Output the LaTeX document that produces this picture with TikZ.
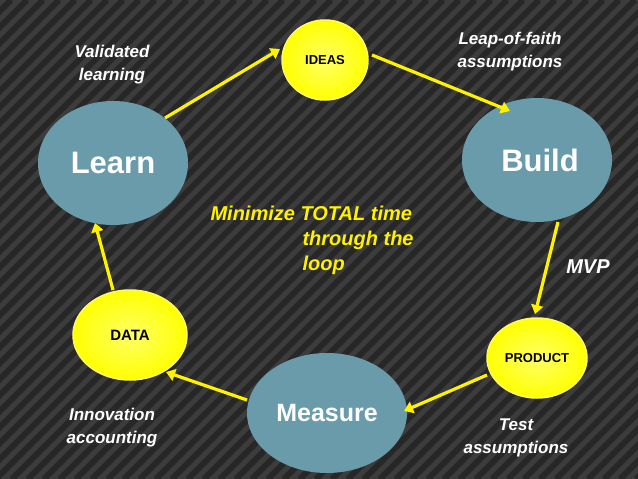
\documentclass[tikz,border=0pt]{standalone}
\usepackage{fontspec}
\setmainfont{Liberation Sans}
\usetikzlibrary{arrows.meta,shapes.geometric}
\begin{document}
\begin{tikzpicture}[x=1pt,y=-1pt,
 teal/.style={ellipse,draw=none,fill=tealc,inner sep=0},
 yel/.style={ellipse,draw=yellow!60!white,line width=1.5pt,inner color=yellow!60!white,outer color=yellow,inner sep=0},
 arr/.style={draw=yellow,line width=3.2pt,-{Triangle[length=9pt,width=12pt]}},
 note/.style={text=white,font=\bfseries\itshape\fontsize{17}{23}\selectfont,align=center}]
\definecolor{tealc}{HTML}{6A9BAA}
\definecolor{bg}{HTML}{3C3C3C}
\fill[bg] (0,0) rectangle (638,479);
\useasboundingbox (0,0) rectangle (638,479);
\begin{scope}
\clip (0,0) rectangle (638,479);
\foreach \i in {-500,-484,...,640} \draw[black!35!bg,line width=6pt] (\i,479) -- (\i+479,0);
\end{scope}
\node[yel,minimum width=86pt,minimum height=80pt] (ideas) at (325,60) {\bfseries\fontsize{13}{15}\selectfont IDEAS};
\node[teal,minimum width=150pt,minimum height=124pt] (build) at (537,160) {};
\node[text=white,font=\bfseries\fontsize{31}{36}\selectfont] at (540,160) {Build};
\node[yel,minimum width=100pt,minimum height=80pt] (prod) at (537,358) {\bfseries\fontsize{13}{15}\selectfont PRODUCT};
\node[teal,minimum width=160pt,minimum height=120pt] (meas) at (327,413) {};
\node[text=white,font=\bfseries\fontsize{25}{30}\selectfont] at (327,413) {Measure};
\node[yel,minimum width=114pt,minimum height=90pt] (data) at (130,335) {};
\node[font=\bfseries\fontsize{15}{18}\selectfont] at (130,335) {DATA};
\node[teal,minimum width=150pt,minimum height=124pt] (learn) at (113,163) {};
\node[text=white,font=\bfseries\fontsize{31}{36}\selectfont] at (113,163) {Learn};
\coordinate (a1) at (165,118); \coordinate (b1) at (280,49);
\coordinate (a2) at (372,55); \coordinate (b2) at (510,111);
\coordinate (a3) at (558,222); \coordinate (b3) at (535,314);
\coordinate (a4) at (487,375); \coordinate (b4) at (404,411);
\coordinate (a5) at (247,400); \coordinate (b5) at (166,372);
\coordinate (a6) at (113,290); \coordinate (b6) at (95,223);
\foreach \i in {1,...,6} \draw[arr] (a\i) -- (b\i);
\node[note] at (112,65) {Validated\\learning};
\node[note] at (510,52) {Leap-of-faith\\assumptions};
\node[note,font=\bfseries\itshape\fontsize{20}{24}\selectfont] at (588,267) {MVP};
\node[note] at (516,438) {Test\\assumptions};
\node[note] at (112,428) {Innovation\\accounting};
\node[text=yellow,font=\bfseries\itshape\fontsize{20}{24}\selectfont,anchor=west] at (207,213) {Minimize TOTAL time};
\node[text=yellow,font=\bfseries\itshape\fontsize{20}{24}\selectfont,anchor=west] at (299,240) {through the};
\node[text=yellow,font=\bfseries\itshape\fontsize{20}{24}\selectfont,anchor=west] at (299,265) {loop};
\end{tikzpicture}
\end{document}
